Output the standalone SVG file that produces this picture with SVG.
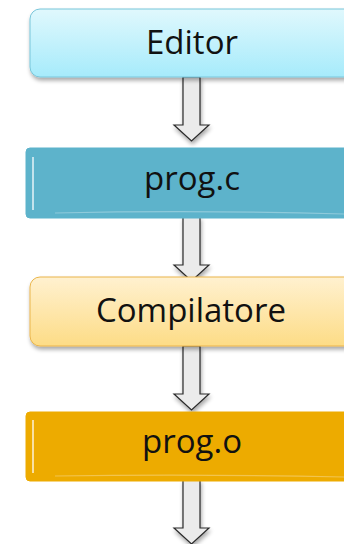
<svg xmlns="http://www.w3.org/2000/svg" width="344" height="544" viewBox="0 0 344 544">
<style>
.lbl{font-family:"Open Sans","DejaVu Sans",sans-serif;font-size:33px;fill:#111;text-anchor:middle}
.arr{fill:#ebebeb;stroke:#2a2a2a;stroke-width:1.2;filter:url(#sh)}
.hl{stroke:#ffffff;stroke-opacity:0.85;stroke-width:1.5;fill:none}
.hb{stroke:#ffffff;stroke-opacity:0.3;stroke-width:1.2;fill:none}
</style>
<defs>
<linearGradient id="gEd" x1="0" y1="0" x2="0" y2="1">
<stop offset="0" stop-color="#e0f8fd"/><stop offset="1" stop-color="#a6ebfb"/>
</linearGradient>
<linearGradient id="gCo" x1="0" y1="0" x2="0" y2="1">
<stop offset="0" stop-color="#fff1d0"/><stop offset="1" stop-color="#fddc86"/>
</linearGradient>
<filter id="sh" x="-20%" y="-20%" width="150%" height="160%">
<feGaussianBlur in="SourceAlpha" stdDeviation="2"/>
<feOffset dx="1" dy="3" result="b"/>
<feComponentTransfer><feFuncA type="linear" slope="0.35"/></feComponentTransfer>
<feMerge><feMergeNode/><feMergeNode in="SourceGraphic"/></feMerge>
</filter>
<path id="arrow" d="M0,0 H17 V48 H26 L8.5,64 L-9,48 H0 Z"/>
</defs>
<g id="connectors">
<use href="#arrow" class="arr" x="183" y="77"/>
<use href="#arrow" class="arr" x="183" y="217"/>
<use href="#arrow" class="arr" x="183" y="346"/>
<use href="#arrow" class="arr" x="183" y="480"/>
</g>
<g id="editor">
<rect x="30" y="9" width="330" height="68" rx="10" fill="url(#gEd)" stroke="#78c6da" stroke-width="1" filter="url(#sh)"/>
<text class="lbl" x="192" y="54">Editor</text>
</g>
<g id="progc">
<rect x="26" y="148" width="330" height="70" rx="4" fill="#5db3cb" stroke="#5db3cb"/>
<line class="hl" x1="33" y1="157" x2="33" y2="210"/>
<path class="hb" d="M55,213 Q200,210 344,214"/>
<text class="lbl" x="192" y="190">prog.c</text>
</g>
<g id="compilatore">
<rect x="30" y="277" width="330" height="69" rx="10" fill="url(#gCo)" stroke="#eab54a" stroke-width="1" filter="url(#sh)"/>
<text class="lbl" x="191" y="322">Compilatore</text>
</g>
<g id="progo">
<rect x="26" y="412" width="330" height="69" rx="4" fill="#edab00" stroke="#edab00"/>
<line class="hl" x1="33" y1="420" x2="33" y2="473"/>
<path class="hb" d="M55,476 Q200,474 344,477"/>
<text class="lbl" x="192" y="453">prog.o</text>
</g>
</svg>
